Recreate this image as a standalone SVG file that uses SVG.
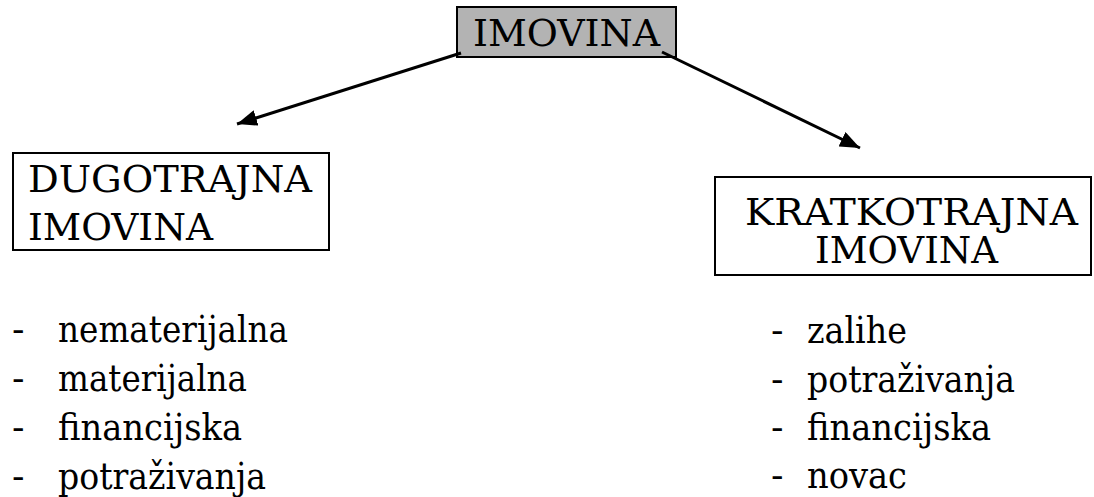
<svg xmlns="http://www.w3.org/2000/svg" width="1094" height="497" viewBox="0 0 1094 497">
<defs>
<style>
text{font-family:'DejaVu Serif','Liberation Serif',serif;font-size:37px;fill:#000}
.box{fill:#fff;stroke:#000;stroke-width:2}
.conn line{stroke:#000;stroke-width:3}
</style>
<marker id="arr" viewBox="0 0 20 16" refX="20" refY="8" markerWidth="20" markerHeight="16" markerUnits="userSpaceOnUse" orient="auto">
<path d="M0,0 L20,8 L0,16 z" fill="#000"/>
</marker>
</defs>
<rect width="1094" height="497" fill="#fff"/>
<g id="root">
<rect x="457" y="7" width="219" height="50" fill="#b3b3b3" stroke="#000" stroke-width="2"/>
<text x="473" y="46" textLength="187" lengthAdjust="spacingAndGlyphs">IMOVINA</text>
</g>
<g id="dugotrajna">
<rect class="box" x="13" y="153" width="316" height="97"/>
<text x="28" y="192" textLength="284" lengthAdjust="spacingAndGlyphs">DUGOTRAJNA</text>
<text x="28" y="240" textLength="185" lengthAdjust="spacingAndGlyphs">IMOVINA</text>
</g>
<g id="kratkotrajna">
<rect class="box" x="715" y="177" width="376" height="98"/>
<text x="745" y="225" textLength="333" lengthAdjust="spacingAndGlyphs">KRATKOTRAJNA</text>
<text x="815" y="263" textLength="183" lengthAdjust="spacingAndGlyphs">IMOVINA</text>
</g>
<g id="list-left">
<text x="12" y="342">-</text><text x="58" y="342" textLength="230" lengthAdjust="spacingAndGlyphs">nematerijalna</text>
<text x="12" y="391">-</text><text x="58" y="391" textLength="189" lengthAdjust="spacingAndGlyphs">materijalna</text>
<text x="12" y="440">-</text><text x="58" y="440" textLength="184" lengthAdjust="spacingAndGlyphs">financijska</text>
<text x="12" y="489">-</text><text x="58" y="489" textLength="208" lengthAdjust="spacingAndGlyphs">potraživanja</text>
</g>
<g id="list-right">
<text x="771" y="343">-</text><text x="807" y="343" textLength="100" lengthAdjust="spacingAndGlyphs">zalihe</text>
<text x="771" y="392">-</text><text x="807" y="392" textLength="208" lengthAdjust="spacingAndGlyphs">potraživanja</text>
<text x="771" y="440">-</text><text x="807" y="440" textLength="184" lengthAdjust="spacingAndGlyphs">financijska</text>
<text x="771" y="488">-</text><text x="807" y="488" textLength="100" lengthAdjust="spacingAndGlyphs">novac</text>
</g>
<g class="conn" id="connectors">
<line x1="461" y1="53" x2="237" y2="124" marker-end="url(#arr)"/>
<line x1="662" y1="52" x2="860" y2="148" marker-end="url(#arr)"/>
</g>
</svg>
